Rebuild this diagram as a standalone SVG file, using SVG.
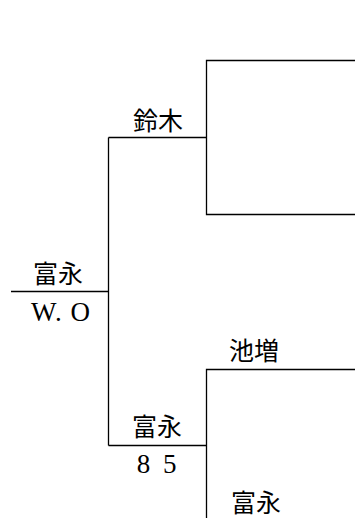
<svg xmlns="http://www.w3.org/2000/svg" width="355" height="518" viewBox="0 0 355 518">
<style>
.ln{stroke:#000;stroke-width:1.3;fill:none}
.cjk{font-family:"Noto Sans CJK JP","Noto Sans",sans-serif;font-size:25px;fill:#000}
.lat{font-family:"Liberation Serif",serif;font-size:27px;fill:#000}
</style>
<rect width="355" height="518" fill="#fff"/>
<g id="connectors">
<path class="ln" d="M11 291.5H108.5"/>
<path class="ln" d="M108.5 137.5V445.5"/>
<path class="ln" d="M108.5 137.5H206.5"/>
<path class="ln" d="M108.5 445.5H206.5"/>
<path class="ln" d="M355 60.5H206.5V214.5H355"/>
<path class="ln" d="M355 369.5H206.5V518"/>
</g>
<g id="root">
<text class="cjk" x="58" y="283" text-anchor="middle">富永</text>
<text class="lat" x="61" y="321" text-anchor="middle" letter-spacing="1">W. O</text>
</g>
<g id="suzuki">
<text class="cjk" x="158" y="130" text-anchor="middle">鈴木</text>
</g>
<g id="tominaga-semi">
<text class="cjk" x="157" y="436" text-anchor="middle">富永</text>
<text class="lat" x="158" y="473" text-anchor="middle" letter-spacing="3">8 5</text>
</g>
<g id="ikemasu">
<text class="cjk" x="229" y="360">池増</text>
</g>
<g id="tominaga-q">
<text class="cjk" x="231" y="512">富永</text>
</g>
</svg>
